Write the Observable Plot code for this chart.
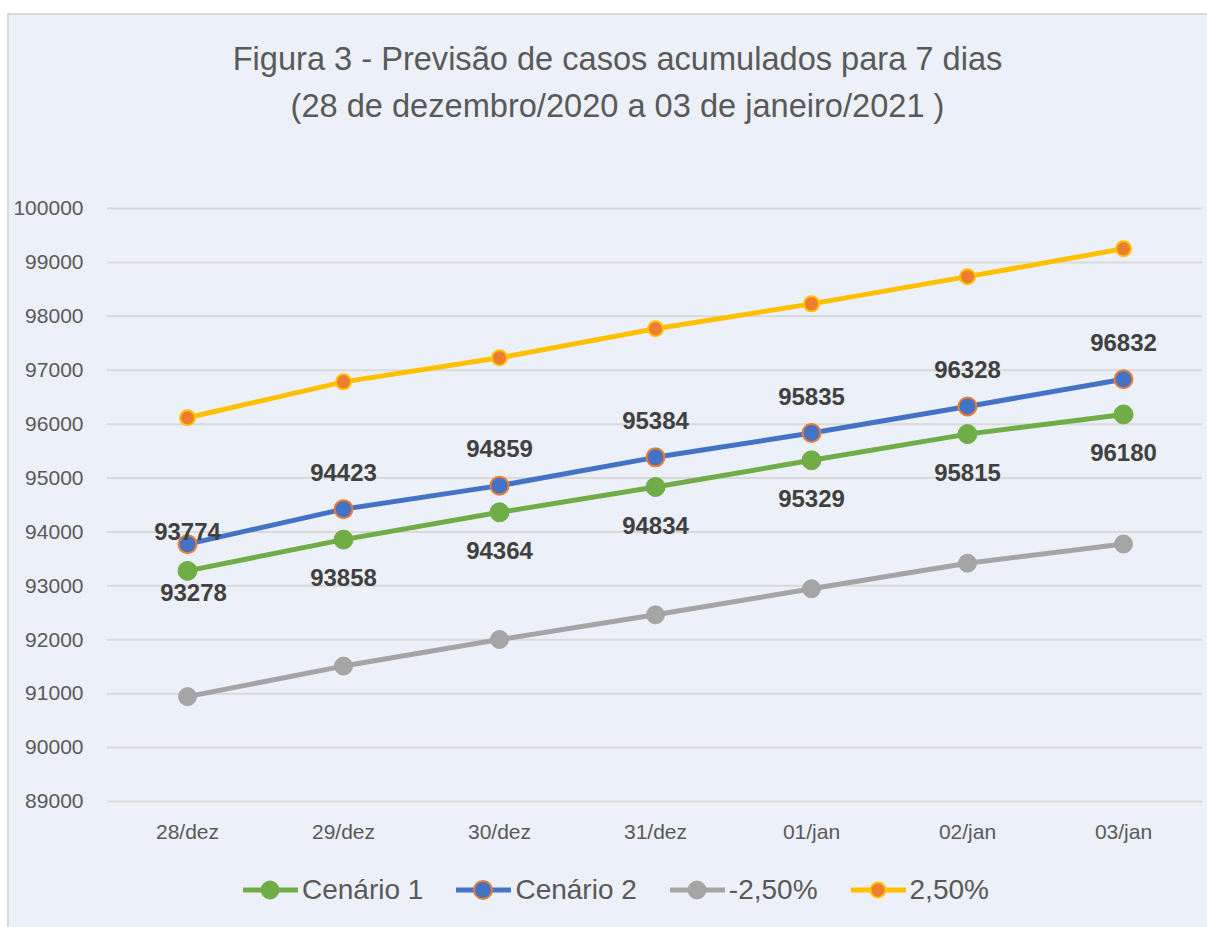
<!DOCTYPE html>
<html><head><meta charset="utf-8">
<script src="https://cdn.jsdelivr.net/npm/d3@7"></script>
<script src="https://cdn.jsdelivr.net/npm/@observablehq/plot@0.6"></script>
<style>
html,body{margin:0;padding:0;background:#ffffff;font-family:"Liberation Sans",Arial,sans-serif;}
#frame{position:absolute;left:7px;top:13px;width:1200px;height:914px;background:#ECF0F8;border-left:2px solid #D9D9D9;border-top:2px solid #D9D9D9;box-sizing:border-box;}
#title{position:absolute;left:18px;width:1199px;top:35px;text-align:center;color:#595959;font-size:32.6px;line-height:47px;}
#plot{position:absolute;left:0;top:150px;}
#legend{position:absolute;left:242px;top:874px;height:32px;display:flex;align-items:center;color:#595959;font-size:28px;}
#legend .item{display:flex;align-items:center;margin-right:32px;}
#legend svg{display:block;margin-right:3px;}
</style>
</head><body>
<div id="frame"></div>
<div id="title">Figura 3 - Previsão de casos acumulados para 7 dias<br>(28 de dezembro/2020 a 03 de janeiro/2021 )</div>
<div id="plot"></div>
<div id="legend"></div>
<script>
const dias = ["28/dez","29/dez","30/dez","31/dez","01/jan","02/jan","03/jan"];
const cenario1 = [93278, 93858, 94364, 94834, 95329, 95815, 96180];
const cenario2 = [93774, 94423, 94859, 95384, 95835, 96328, 96832];
const menos250 = [90946, 91512, 92005, 92463, 92946, 93420, 93776];
const mais250  = [96118, 96784, 97230, 97769, 98231, 98736, 99253];
const yTicks = [89000, 90000, 91000, 92000, 93000, 94000, 95000, 96000, 97000, 98000, 99000, 100000];
const seriesNames = ["Cenário 1", "Cenário 2", "-2,50%", "2,50%"];

const seriesValues = [cenario1, cenario2, menos250, mais250];
const styles = {
  "Cenário 1": {line:"#70AD47", fill:"#70AD47", stroke:"#70AD47", r:9.5, sw:1},
  "Cenário 2": {line:"#4472C4", fill:"#4472C4", stroke:"#ED7D31", r:9, sw:2},
  "-2,50%":    {line:"#A5A5A5", fill:"#A5A5A5", stroke:"#A5A5A5", r:9, sw:1},
  "2,50%":     {line:"#FFC000", fill:"#ED7D31", stroke:"#FFC000", r:7.5, sw:2}
};

const rows = [];
seriesNames.forEach((s, si) => {
  seriesValues[si].forEach((v, i) => rows.push({serie: s, dia: dias[i], valor: v, i}));
});
const bySerie = s => rows.filter(d => d.serie === s);

const marks = [
  Plot.ruleY(yTicks, {stroke:"#D9D9D9", strokeWidth:2})
];
seriesNames.forEach(s => {
  const st = styles[s];
  marks.push(Plot.line(bySerie(s), {x:"dia", y:"valor", stroke:st.line, strokeWidth:5, strokeLinejoin:"round"}));
});
seriesNames.forEach(s => {
  const st = styles[s];
  marks.push(Plot.dot(bySerie(s), {x:"dia", y:"valor", r:st.r, fill:st.fill, stroke:st.stroke, strokeWidth:st.sw}));
});
const lbl = {text: d => String(d.valor), fill:"#404040", fontWeight:"bold", fontSize:24};
const c1 = bySerie("Cenário 1"), c2 = bySerie("Cenário 2");
marks.push(Plot.text(c2.filter(d => d.i === 0), {...lbl, x:"dia", y:"valor", dy:-12}));
marks.push(Plot.text(c2.filter(d => d.i > 0), {...lbl, x:"dia", y:"valor", dy:-36}));
marks.push(Plot.text(c1.filter(d => d.i === 0), {...lbl, x:"dia", y:"valor", dy:22, dx:6}));
marks.push(Plot.text(c1.filter(d => d.i > 0), {...lbl, x:"dia", y:"valor", dy:39}));

marks.push(Plot.axisY({ticks:yTicks, tickSize:0, tickPadding:24, tickFormat:d => String(d), fontSize:21, label:null}));
marks.push(Plot.axisX({tickSize:0, tickPadding:23, fontSize:21, label:null}));

const chart = Plot.plot({
  width:1207, height:710,
  marginTop:58, marginBottom:59, marginLeft:107, marginRight:5,
  x:{type:"point", domain:dias, padding:0.5},
  y:{domain:[89000, 100000]},
  style:{background:"transparent", color:"#595959", fontFamily:"'Liberation Sans', Arial, sans-serif", overflow:"visible"},
  marks
});
document.getElementById("plot").appendChild(chart);

const legend = document.getElementById("legend");
seriesNames.forEach(s => {
  const st = styles[s];
  const item = document.createElement("div");
  item.className = "item";
  item.innerHTML = `<svg width="57" height="24"><line x1="1" x2="56" y1="12" y2="12" stroke="${st.line}" stroke-width="5"/><circle cx="28" cy="12" r="${Math.min(st.r, 9)}" fill="${st.fill}" stroke="${st.stroke}" stroke-width="${st.sw}"/></svg><span>${s}</span>`;
  legend.appendChild(item);
});
</script>
</body></html>
